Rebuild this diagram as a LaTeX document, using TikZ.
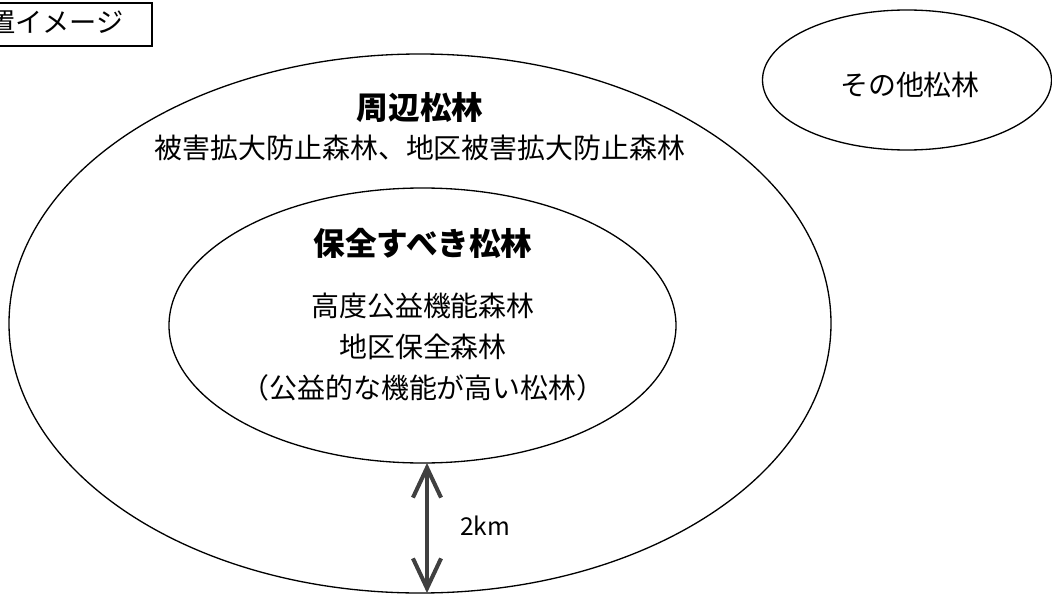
\documentclass[tikz,border=0pt]{standalone}
\usepackage{fontspec}
\setmainfont{Noto Sans CJK JP}
\newfontfamily\jp{Noto Sans CJK JP}
\usetikzlibrary{arrows.meta}
\definecolor{arrowgray}{HTML}{404040}
\begin{document}
\begin{tikzpicture}[x=0.02cm,y=-0.02cm,
  ring/.style={draw=black,line width=0.75pt},
  title/.style={font=\jp\bfseries\fontsize{18}{22}\selectfont,inner sep=0pt},
  body/.style={font=\jp\fontsize{15.9}{19}\selectfont,inner sep=0pt},
  measure/.style={draw=arrowgray,line width=2.3pt,{Straight Barb[length=17pt,width=16pt,line width=2.3pt]}-{Straight Barb[length=17pt,width=16pt,line width=2.3pt]}}]
\useasboundingbox (0,0) rectangle (1052,595);
% outer ring
\draw[ring] (420,323.5) ellipse [x radius=411, y radius=269.5];
% inner ring
\draw[ring] (422.5,325.5) ellipse [x radius=253.5, y radius=137.5];
% other pines
\draw[ring] (907,80) ellipse [x radius=144.5, y radius=70];
% legend box
\draw[line width=0.75pt] (-20,3) rectangle (152,46);
\node[anchor=east,inner sep=0pt,font=\jp\fontsize{15.5}{18}\selectfont] (legend) at (124,23) {置イメージ};
% labels
\node[title] (outerT) at (420,108) {周辺松林};
\node[body] (outerB) at (420,148) {被害拡大防止森林、地区被害拡大防止森林};
\node[title] (innerT) at (423,243) {保全すべき松林};
\node[body] (l1) at (423,306) {高度公益機能森林};
\node[body] (l2) at (423,347) {地区保全森林};
\node[body] (l3) at (423,388) {（公益的な機能が高い松林）};
\node[body] (other) at (910,85) {その他松林};
% distance arrow
\coordinate (innerBottom) at (427,463);
\coordinate (outerBottom) at (427,593);
\draw[measure] (innerBottom) -- (outerBottom);
\node[inner sep=0pt,font=\jp\fontsize{14}{17}\selectfont] (dist) at (485,526) {2km};
\end{tikzpicture}
\end{document}
